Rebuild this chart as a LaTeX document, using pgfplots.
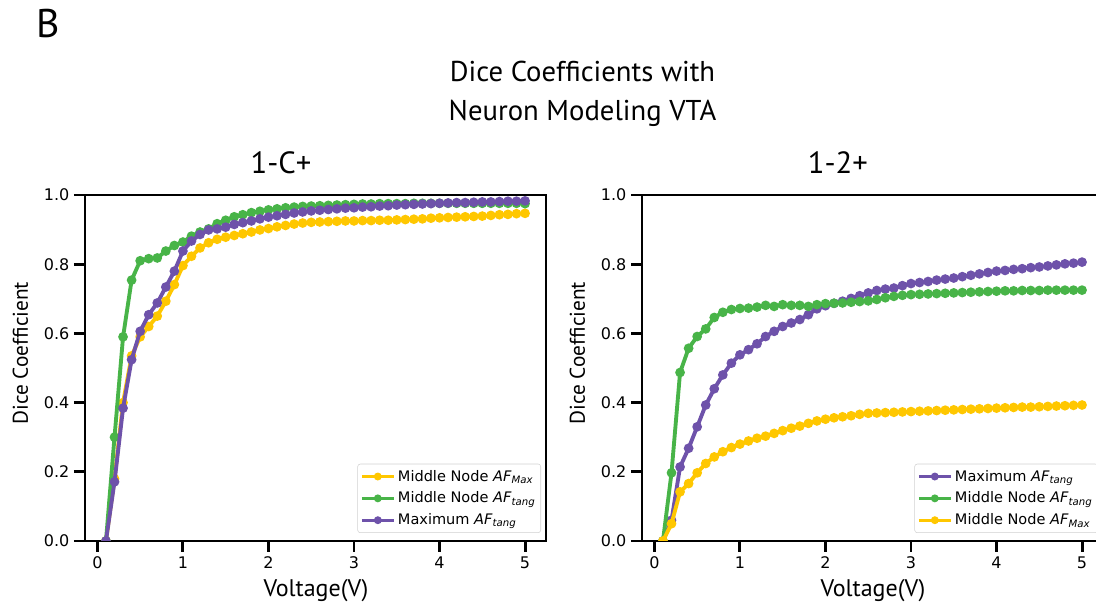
\documentclass[border=0pt]{standalone}
\usepackage{pgfplots}
\pgfplotsset{compat=1.18}
\usepackage{pgfplotstable}
\usepackage{fontspec}
\setmainfont{DejaVu Sans}
\newfontfamily\myr{PT Sans}
\definecolor{cY}{RGB}{255,199,0}
\definecolor{cG}{RGB}{72,180,72}
\definecolor{cP}{RGB}{110,82,170}

\pgfplotstableread{
x ya ga pa yb gb pb
0.1 0 0 0 0 0 0
0.2 0.18 0.30 0.171 0.05 0.197 0.06
0.3 0.40 0.59 0.384 0.142 0.487 0.214
0.4 0.535 0.754 0.524 0.166 0.557 0.268
0.5 0.59 0.81 0.606 0.197 0.591 0.33
0.6 0.62 0.816 0.654 0.224 0.613 0.393
0.7 0.65 0.818 0.688 0.243 0.646 0.44
0.8 0.693 0.838 0.734 0.258 0.661 0.48
0.9 0.741 0.854 0.78 0.27 0.669 0.514
1.0 0.796 0.864 0.838 0.28 0.672 0.538
1.1 0.823 0.881 0.867 0.289 0.673 0.553
1.2 0.847 0.893 0.886 0.297 0.676 0.57
1.3 0.862 0.902 0.899 0.303 0.681 0.591
1.4 0.872 0.917 0.902 0.311 0.678 0.606
1.5 0.878 0.927 0.907 0.319 0.683 0.62
1.6 0.883 0.937 0.915 0.326 0.681 0.63
1.7 0.888 0.943 0.92 0.332 0.681 0.64
1.8 0.893 0.949 0.925 0.34 0.678 0.654
1.9 0.899 0.953 0.931 0.347 0.683 0.671
2.0 0.903 0.957 0.936 0.352 0.686 0.68
2.1 0.908 0.960 0.940 0.356 0.687 0.687
2.2 0.912 0.963 0.944 0.359 0.688 0.693
2.3 0.916 0.965 0.948 0.362 0.690 0.701
2.4 0.919 0.967 0.951 0.366 0.692 0.709
2.5 0.921 0.968 0.954 0.369 0.694 0.717
2.6 0.922 0.969 0.956 0.370 0.698 0.724
2.7 0.923 0.970 0.958 0.371 0.703 0.728
2.8 0.924 0.971 0.960 0.372 0.707 0.731
2.9 0.925 0.972 0.962 0.373 0.710 0.738
3.0 0.925 0.973 0.963 0.374 0.712 0.744
3.1 0.926 0.974 0.965 0.375 0.713 0.747
3.2 0.926 0.974 0.966 0.376 0.714 0.750
3.3 0.927 0.975 0.968 0.377 0.715 0.754
3.4 0.927 0.975 0.969 0.378 0.716 0.757
3.5 0.928 0.975 0.971 0.379 0.717 0.760
3.6 0.929 0.975 0.972 0.380 0.718 0.764
3.7 0.930 0.976 0.973 0.381 0.719 0.768
3.8 0.931 0.976 0.974 0.382 0.720 0.772
3.9 0.933 0.976 0.975 0.383 0.721 0.776
4.0 0.934 0.976 0.976 0.384 0.722 0.780
4.1 0.935 0.976 0.977 0.385 0.723 0.782
4.2 0.936 0.976 0.978 0.386 0.723 0.785
4.3 0.937 0.976 0.978 0.387 0.724 0.787
4.4 0.938 0.976 0.979 0.387 0.724 0.790
4.5 0.939 0.976 0.980 0.388 0.724 0.792
4.6 0.941 0.976 0.980 0.389 0.725 0.795
4.7 0.943 0.976 0.981 0.390 0.725 0.798
4.8 0.944 0.976 0.982 0.391 0.725 0.801
4.9 0.946 0.976 0.982 0.392 0.725 0.803
5.0 0.947 0.975 0.983 0.393 0.725 0.806
}\data

\pgfplotsset{
  myaxis/.style={
    scale only axis, width=345.75pt, height=259.5pt,
    xmin=-0.145, xmax=5.245, ymin=0, ymax=1,
    xtick={0,1,2,3,4,5}, ytick={0,0.2,0.4,0.6,0.8,1.0},
    xtick pos=left, ytick pos=left,
    yticklabel style={/pgf/number format/.cd, fixed, fixed zerofill, precision=1},
    /pgf/number format/assume math mode=true,
    tick label style={font=\fontsize{12}{14}\selectfont, black},
    axis line style={line width=1.4pt, black},
    tick align=outside, major tick length=8.25pt,
    major tick style={line width=2.2pt, black},
    clip marker paths=true,
    xlabel={Voltage(V)}, ylabel={Dice Coefficient},
    xlabel style={at={(rel axis cs:0.501,-0.159)}, anchor=base, font=\myr\fontsize{18}{20}\selectfont},
    ylabel style={at={(rel axis cs:-0.14,0.543)}, anchor=center, rotate=0, font=\myr\fontsize{16}{18}\selectfont},
    title style={at={(rel axis cs:0.425,1.0376)}, anchor=base, font=\myr\fontsize{23}{26}\selectfont},
    every axis plot/.append style={line width=2.9pt, mark=*, mark size=2.1pt},
    legend cell align=left,
    legend style={at={(1,0)}, anchor=south east, xshift=-3.75pt, yshift=6pt,
      draw=black!18, rounded corners=2pt, fill=white,
      font=\fontsize{10.9}{12.5}\selectfont, inner xsep=2pt, inner ysep=2.5pt,
      row sep=2.6pt, /tikz/every even column/.append style={column sep=6pt}},
    legend image code/.code={\draw[#1, line width=2.2pt, mark size=1.8pt, mark repeat=2, mark phase=2] plot coordinates {(0pt,0pt) (12pt,0pt) (24pt,0pt)};},
  }
}

\begin{document}
\begin{tikzpicture}
\useasboundingbox (0,0) rectangle (822pt,451.5pt);
\clip (0,0) rectangle (822pt,451.5pt);
\node[anchor=base west, font=\myr\fontsize{30}{34}\selectfont, inner sep=0pt] at (27pt,423pt) {B};
\node[anchor=base, font=\myr\fontsize{21.5}{24}\selectfont, inner sep=0pt] at (436.9pt,390.2pt) {Dice Coefficients with};
\node[anchor=base, font=\myr\fontsize{21.5}{24}\selectfont, inner sep=0pt] at (436.9pt,361pt) {Neuron Modeling VTA};

\begin{axis}[myaxis, at={(63.75pt,45.75pt)}, anchor=south west, title={1-C+}]
\addplot[cY] table[x=x, y=ya] {\data};
\addlegendentry{Middle Node \textit{AF}\textsubscript{\textit{Max}}}
\addplot[cG] table[x=x, y=ga] {\data};
\addlegendentry{Middle Node \textit{AF}\textsubscript{\textit{tang}}}
\addplot[cP] table[x=x, y=pa] {\data};
\addlegendentry{Maximum \textit{AF}\textsubscript{\textit{tang}}}
\end{axis}

\begin{axis}[myaxis, at={(481.5pt,45.75pt)}, anchor=south west, title={1-2+}]
\addplot[cP] table[x=x, y=pb] {\data};
\addlegendentry{Maximum \textit{AF}\textsubscript{\textit{tang}}}
\addplot[cG] table[x=x, y=gb] {\data};
\addlegendentry{Middle Node \textit{AF}\textsubscript{\textit{tang}}}
\addplot[cY] table[x=x, y=yb] {\data};
\addlegendentry{Middle Node \textit{AF}\textsubscript{\textit{Max}}}
\end{axis}
\end{tikzpicture}
\end{document}
